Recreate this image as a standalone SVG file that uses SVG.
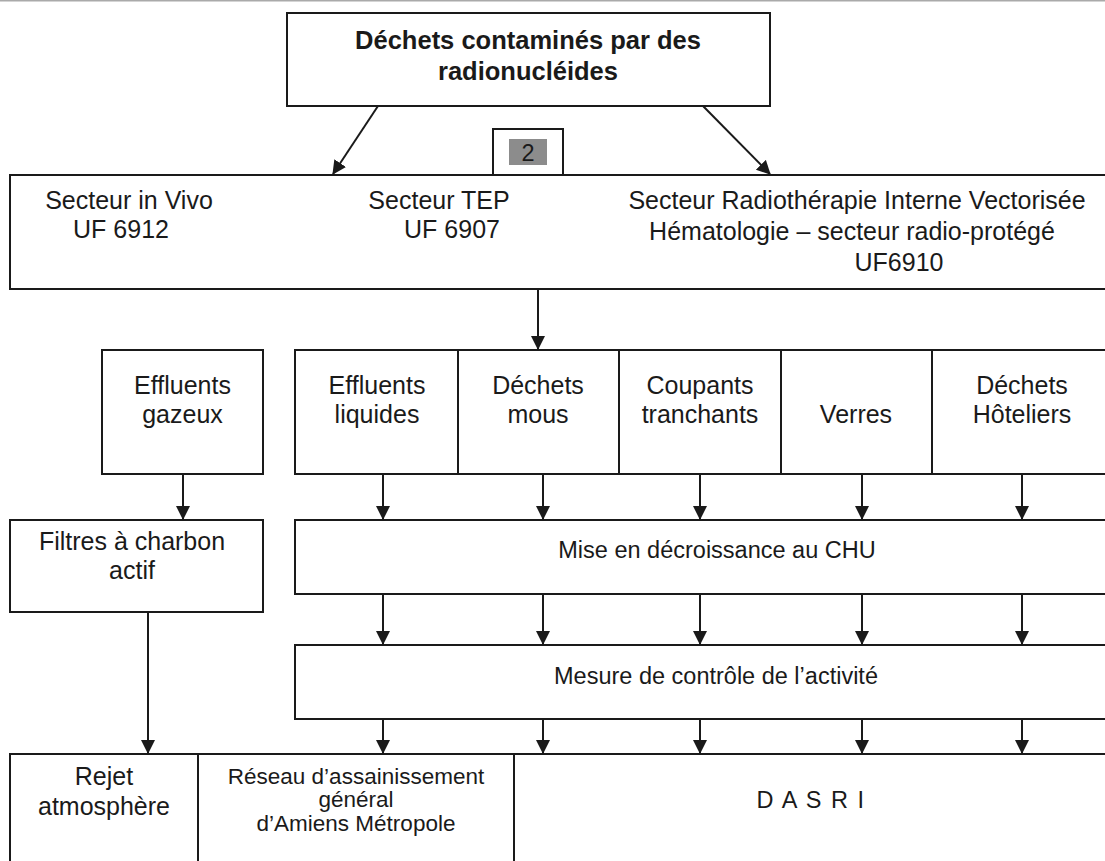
<svg xmlns="http://www.w3.org/2000/svg" width="1105" height="861" viewBox="0 0 1105 861">
<style>
.bx{fill:#fff;stroke:#1a1a1a;stroke-width:2}
.t{font-family:"Liberation Sans",Arial,sans-serif;font-size:25px;fill:#1a1a1a;text-anchor:middle}
.tm{font-family:"Liberation Sans",Arial,sans-serif;font-size:23.5px;fill:#1a1a1a;text-anchor:middle}
.tb{font-family:"Liberation Sans",Arial,sans-serif;font-size:25.5px;font-weight:bold;fill:#1a1a1a;text-anchor:middle}
.ts{font-family:"Liberation Sans",Arial,sans-serif;font-size:22.5px;fill:#1a1a1a;text-anchor:middle}
.c{stroke:#1a1a1a;stroke-width:2;fill:none;marker-end:url(#ah)}
</style>
<defs>
<marker id="ah" markerUnits="userSpaceOnUse" markerWidth="14" markerHeight="16" refX="13" refY="7" orient="auto">
<path d="M0,0 L14,7 L0,14 Z" fill="#1a1a1a"/>
</marker>
</defs>
<rect width="1105" height="861" fill="#fff"/>
<line x1="0" y1="0.5" x2="1105" y2="0.5" stroke="#aaa" stroke-width="2"/>

<g id="top">
<rect class="bx" x="287" y="13" width="483" height="93"/>
<text class="tb" x="528" y="49">Déchets contaminés par des</text>
<text class="tb" x="528" y="80">radionucléides</text>
</g>

<g id="label2">
<rect class="bx" x="493" y="129" width="70" height="46"/>
<rect x="509" y="139" width="38" height="26" fill="#8c8c8c"/>
<text class="tm" x="528" y="161">2</text>
</g>

<g id="secteurs">
<rect class="bx" x="10" y="175" width="1105" height="114"/>
<text class="t" x="129" y="209">Secteur in Vivo</text>
<text class="t" x="121" y="238">UF 6912</text>
<text class="t" x="439" y="209">Secteur TEP</text>
<text class="t" x="452" y="238">UF 6907</text>
<text class="t" x="857" y="209">Secteur Radiothérapie Interne Vectorisée</text>
<text class="t" x="852" y="240">Hématologie – secteur radio-protégé</text>
<text class="t" x="899" y="271">UF6910</text>
</g>

<g id="gazeux">
<rect class="bx" x="102" y="350" width="161" height="124"/>
<text class="t" x="182.5" y="394">Effluents</text>
<text class="t" x="182.5" y="423">gazeux</text>
</g>

<g id="liquides">
<rect class="bx" x="295" y="350" width="163" height="124"/>
<text class="t" x="377" y="394">Effluents</text>
<text class="t" x="377" y="423">liquides</text>
</g>
<g id="mous">
<rect class="bx" x="458" y="350" width="161" height="124"/>
<text class="t" x="538" y="394">Déchets</text>
<text class="t" x="538" y="423">mous</text>
</g>
<g id="coupants">
<rect class="bx" x="619" y="350" width="162" height="124"/>
<text class="t" x="700" y="394">Coupants</text>
<text class="t" x="700" y="423">tranchants</text>
</g>
<g id="verres">
<rect class="bx" x="781" y="350" width="151" height="124"/>
<text class="t" x="856" y="423">Verres</text>
</g>
<g id="hoteliers">
<rect class="bx" x="932" y="350" width="180" height="124"/>
<text class="t" x="1022" y="394">Déchets</text>
<text class="t" x="1022" y="423">Hôteliers</text>
</g>

<g id="filtres">
<rect class="bx" x="10" y="520" width="253" height="92"/>
<text class="t" x="132" y="550">Filtres à charbon</text>
<text class="t" x="132" y="579">actif</text>
</g>

<g id="decroissance">
<rect class="bx" x="295" y="520" width="820" height="74"/>
<text class="tm" x="717" y="558">Mise en décroissance au CHU</text>
</g>

<g id="mesure">
<rect class="bx" x="295" y="645" width="820" height="74"/>
<text class="tm" x="716" y="684">Mesure de contrôle de l’activité</text>
</g>

<g id="rejet">
<rect class="bx" x="10" y="754" width="188" height="120"/>
<text class="t" x="104" y="785">Rejet</text>
<text class="t" x="104" y="815">atmosphère</text>
</g>
<g id="reseau">
<rect class="bx" x="198" y="754" width="316" height="120"/>
<text class="ts" x="356" y="784">Réseau d’assainissement</text>
<text class="ts" x="356" y="807">général</text>
<text class="ts" x="356" y="831">d’Amiens Métropole</text>
</g>
<g id="dasri">
<rect class="bx" x="514" y="754" width="600" height="120"/>
<text class="tm" x="811" y="808" letter-spacing="1.5">D A S R I</text>
</g>

<g id="connectors">
<line class="c" x1="378" y1="106" x2="333" y2="174"/>
<line class="c" x1="703" y1="106" x2="770" y2="174"/>
<line class="c" x1="538" y1="289" x2="538" y2="349"/>
<line class="c" x1="183" y1="474" x2="183" y2="519"/>
<line class="c" x1="383" y1="474" x2="383" y2="519"/>
<line class="c" x1="543" y1="474" x2="543" y2="519"/>
<line class="c" x1="700" y1="474" x2="700" y2="519"/>
<line class="c" x1="862" y1="474" x2="862" y2="519"/>
<line class="c" x1="1022" y1="474" x2="1022" y2="519"/>
<line class="c" x1="383" y1="594" x2="383" y2="644"/>
<line class="c" x1="543" y1="594" x2="543" y2="644"/>
<line class="c" x1="700" y1="594" x2="700" y2="644"/>
<line class="c" x1="862" y1="594" x2="862" y2="644"/>
<line class="c" x1="1022" y1="594" x2="1022" y2="644"/>
<line class="c" x1="148" y1="612" x2="148" y2="753"/>
<line class="c" x1="383" y1="719" x2="383" y2="753"/>
<line class="c" x1="543" y1="719" x2="543" y2="753"/>
<line class="c" x1="700" y1="719" x2="700" y2="753"/>
<line class="c" x1="862" y1="719" x2="862" y2="753"/>
<line class="c" x1="1022" y1="719" x2="1022" y2="753"/>
</g>
</svg>
